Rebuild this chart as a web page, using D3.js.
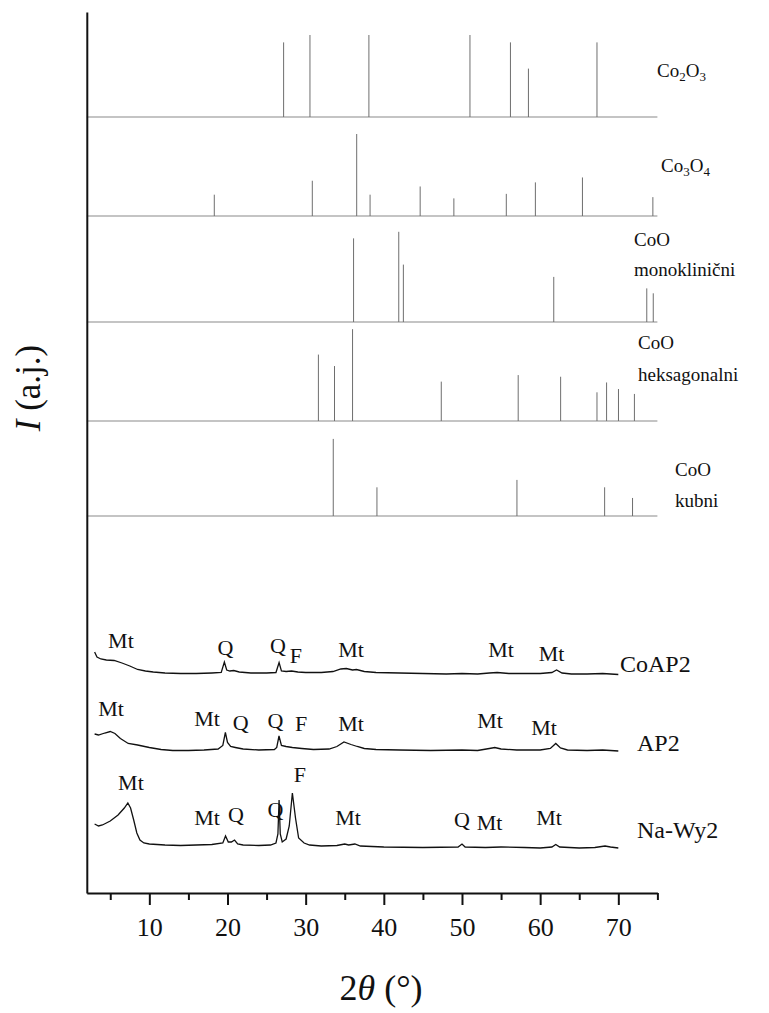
<!DOCTYPE html>
<html>
<head>
<meta charset="utf-8">
<script src="https://cdn.jsdelivr.net/npm/d3@7"></script>
<style>
  html, body { margin: 0; padding: 0; background: #fff; }
  svg { display: block; }
  text { font-family: "Liberation Serif", "Times New Roman", serif; fill: #111; }
</style>
</head>
<body>
<svg id="chart" width="769" height="1013"></svg>
<script>
// ---------- DATA ----------
const xTicksMajor = [10, 20, 30, 40, 50, 60, 70];
const xTicksMinor = [5, 15, 25, 35, 45, 55, 65, 75];

// reference stick patterns: 2θ positions and relative intensities (%)
const co2o3Pos = [27.18, 30.55, 38.09, 51.02, 56.2, 58.5, 67.27];
const co2o3Int = [91, 100, 100, 100, 91, 59, 91];
const co3o4Pos = [18.31, 30.85, 36.53, 38.24, 44.65, 48.96, 55.67, 59.39, 65.41, 74.42];
const co3o4Int = [26, 43, 100, 26, 36, 21.5, 27, 41, 47, 23];
const coMonoPos = [36.13, 41.91, 42.5, 61.74, 73.64, 74.47];
const coMonoInt = [102, 110, 70, 55, 41, 35];
const coHexPos = [31.63, 33.69, 36.0, 47.35, 57.19, 62.62, 67.27, 68.5, 70.02, 72.06];
const coHexInt = [81, 67, 112, 48, 56, 54, 35, 47, 39, 33];
const coCubPos = [33.53, 39.12, 57.03, 68.25, 71.82];
const coCubInt = [94, 35, 44, 35, 22];

// baseline offsets of each pattern (a.u.)
const stickOffsets = [776, 677, 571, 472, 377];
const stickLabelLines = [
  [[["Co", 0], ["2", 1], ["O", 0], ["3", 1]]],
  [[["Co", 0], ["3", 1], ["O", 0], ["4", 1]]],
  [[["CoO", 0]], [["monoklinični", 0]]],
  [[["CoO", 0]], [["heksagonalni", 0]]],
  [[["CoO", 0]], [["kubni", 0]]]
];

// measured diffractograms: 2θ and intensity above each baseline (a.u.)
const coap2X = [3.0, 3.3, 3.8, 4.5, 5.5, 6.5, 7.5, 8.5, 9.5, 10.5, 12, 14, 16, 18, 19.2, 19.6, 19.9, 20.3, 20.8, 21.5, 23, 25, 26.2, 26.6, 26.9, 27.5, 28.2, 29, 30, 32, 33.5, 34.5, 35.2, 36, 36.5, 37.5, 39, 42, 45, 48, 50, 52, 53.5, 54.5, 56, 58, 60, 61.5, 62.1, 62.8, 64, 66, 68, 69, 70];
const coap2Y = [22, 17, 15, 14, 13.5, 11, 8, 4.5, 3, 2, 1, 0.5, 0.5, 1, 1.5, 12, 4, 3, 3.5, 2, 1, 1, 1.5, 11.5, 3, 2.5, 3, 2, 1.5, 1.5, 2.5, 5, 5.5, 4, 4.5, 2.5, 1.5, 1, 0.5, 0, 0.5, 0, 1, 1.5, 0.5, 0.5, 0.5, 1.5, 4, 1, 0, 0, 0.5, 0, -0.5];

const ap2X = [3.0, 3.5, 4.3, 5.0, 5.6, 6.3, 7.3, 8.5, 10, 11.5, 13, 15, 17, 18.8, 19.4, 19.73, 20.0, 20.4, 21, 22, 24, 26.0, 26.3, 26.59, 26.9, 27.5, 28.3, 29.5, 31, 33, 34, 34.9, 35.8, 36.6, 37.5, 39, 42, 46, 50, 52, 53.5, 54.2, 55, 57, 60, 61.3, 62.0, 62.6, 63.5, 66, 68, 70];
const ap2Y = [16.5, 15.5, 17.5, 19, 17, 12, 7, 5.5, 3, 1, 0, 0, 0.5, 1.5, 5, 18, 8, 4, 3, 1.5, 0.5, 1, 3, 14.5, 5, 4, 3, 2, 1, 1.5, 4, 8.5, 6, 4, 2, 1, 0.5, 0, 0.5, 0, 2, 3, 1.5, 0.5, 0.5, 2, 7, 2.5, 0.5, 0, 0.5, -0.5];

const nawy2X = [3.0, 3.5, 4.0, 5.0, 6.0, 6.8, 7.25, 7.6, 8.0, 8.4, 8.8, 9.3, 10, 12, 14, 16, 18, 19.4, 19.75, 20.1, 20.5, 20.9, 21.3, 22, 24, 25.5, 26.2, 26.45, 26.6, 26.75, 27.0, 27.5, 27.9, 28.3, 28.7, 29.1, 29.8, 30.5, 32, 34, 35, 35.5, 36.3, 37, 40, 45, 49.5, 50, 50.4, 53, 55, 58, 60, 61.5, 62, 62.5, 65, 67, 68.3, 69, 70];
const nawy2Y = [24, 22, 23, 27, 33, 40, 45, 40, 28, 15, 8, 5, 4, 3, 2.5, 3, 3.5, 5, 12, 6, 6, 8, 4, 3, 2.5, 3, 5, 14, 48, 14, 6, 9, 22, 55, 30, 10, 5, 3, 2, 2.5, 4, 3, 4, 2, 1, 0.5, 1, 4, 1, 0.5, 1, 0.5, 0, 1, 3.5, 1, 0, 0.5, 2, 1, 0];

const traceOffsets = [219, 142.5, 45];
const traceNames = ["CoAP2", "AP2", "Na-Wy2"];

// peak annotations: 2θ of label centre, baseline level (a.u.), text
const annotX = [6.37, 19.73, 26.46, 28.76, 35.8, 55.0, 61.45,
                5.1, 17.38, 21.69, 26.15, 29.43, 35.8, 53.58, 60.49,
                7.65, 17.38, 21.09, 26.15, 29.27, 35.42, 50.0, 53.52, 61.13];
const annotY = [245, 238, 240, 230, 236, 236, 232,
                177, 167, 163, 165, 162, 162, 165, 158,
                103, 68, 71, 76, 111, 68, 66, 63, 68];
const annotText = ["Mt", "Q", "Q", "F", "Mt", "Mt", "Mt",
                   "Mt", "Mt", "Q", "Q", "F", "Mt", "Mt", "Mt",
                   "Mt", "Mt", "Q", "Q", "F", "Mt", "Q", "Mt", "Mt"];

// ---------- CHART ----------
const svg = d3.select("#chart");
const x = d3.scaleLinear().domain([2, 75]).range([86.8, 657.4]);
const y = d3.scaleLinear().domain([0, 881]).range([893, 12]);
const stickScale = d3.scaleLinear().domain([0, 100]).range([0, 82]);

// stick patterns
const stickSets = [
  [co2o3Pos, co2o3Int], [co3o4Pos, co3o4Int], [coMonoPos, coMonoInt],
  [coHexPos, coHexInt], [coCubPos, coCubInt]
];
stickSets.forEach(([pos, inten], i) => {
  const off = stickOffsets[i];
  const g = svg.append("g");
  g.append("line")
    .attr("x1", x(2)).attr("x2", x(75))
    .attr("y1", y(off)).attr("y2", y(off))
    .attr("stroke", "#8a8a8a").attr("stroke-width", 1.2);
  g.selectAll("line.stick").data(pos).enter().append("line")
    .attr("class", "stick")
    .attr("x1", d => x(d)).attr("x2", d => x(d))
    .attr("y1", y(off))
    .attr("y2", (d, j) => y(off) - stickScale(inten[j]))
    .attr("stroke", "#6e6e6e").attr("stroke-width", 1);
});

// stick labels (x start, baselines)
const labelPos = [
  {x: 657, ys: [77]}, {x: 661, ys: [172]},
  {x: 634, ys: [246, 276]}, {x: 638, ys: [349, 381]}, {x: 675, ys: [476, 507]}
];
stickLabelLines.forEach((lines, i) => {
  const lp = labelPos[i];
  lines.forEach((parts, li) => {
    const t = svg.append("text").attr("x", lp.x).attr("y", lp.ys[li]).attr("font-size", 19);
    let shifted = false;
    parts.forEach(([s, sub]) => {
      const ts = t.append("tspan").text(s).attr("font-size", sub ? 13 : 19);
      if (sub && !shifted) { ts.attr("dy", 4); shifted = true; }
      else if (!sub && shifted) { ts.attr("dy", -4); shifted = false; }
    });
  });
});

// measured traces
const traces = [[coap2X, coap2Y], [ap2X, ap2Y], [nawy2X, nawy2Y]];
const line = d3.line().x(d => x(d[0])).y(d => y(d[1]));
traces.forEach(([xs, ys], i) => {
  const pts = xs.map((v, j) => [v, ys[j] + traceOffsets[i]]);
  svg.append("path").datum(pts)
    .attr("d", line).attr("fill", "none")
    .attr("stroke", "#111").attr("stroke-width", 1.3);
});
const traceLabelPos = [{x: 620, y: 672}, {x: 637, y: 751}, {x: 637, y: 838}];
traceNames.forEach((n, i) => {
  svg.append("text").attr("x", traceLabelPos[i].x).attr("y", traceLabelPos[i].y)
    .attr("font-size", 24).text(n);
});

// annotations
svg.selectAll("text.ann").data(annotText).enter().append("text")
  .attr("class", "ann")
  .attr("x", (d, i) => x(annotX[i]))
  .attr("y", (d, i) => y(annotY[i]))
  .attr("text-anchor", "middle")
  .attr("font-size", 22)
  .text(d => d);

// axes
const xAxis = svg.append("g").attr("transform", `translate(0,${y(0)})`)
  .call(d3.axisBottom(x).tickValues(xTicksMajor).tickSize(12).tickSizeOuter(0).tickFormat(d3.format("d")));
xAxis.select(".domain").attr("stroke-width", 2).attr("stroke", "#111");
xAxis.selectAll(".tick line").attr("stroke-width", 2).attr("stroke", "#111");
xAxis.selectAll(".tick text")
  .attr("font-family", "Liberation Serif").attr("font-size", 26)
  .attr("y", 25).attr("fill", "#111");
const xMinor = svg.append("g").attr("transform", `translate(0,${y(0)})`)
  .call(d3.axisBottom(x).tickValues(xTicksMinor).tickSize(7).tickSizeOuter(0).tickFormat(""));
xMinor.select(".domain").remove();
xMinor.selectAll(".tick line").attr("stroke-width", 2).attr("stroke", "#111");

const yAxis = svg.append("g").attr("transform", `translate(${x(2)},0)`)
  .call(d3.axisLeft(y).tickValues([]).tickSizeOuter(0));
yAxis.select(".domain").attr("stroke-width", 2).attr("stroke", "#111");

// axis titles
svg.append("text")
  .attr("transform", "translate(40,388) rotate(-90)")
  .attr("text-anchor", "middle").attr("font-size", 35)
  .call(t => {
    t.append("tspan").attr("font-style", "italic").text("I");
    t.append("tspan").text(" (a.j.)");
  });
svg.append("text")
  .attr("x", 381).attr("y", 1000).attr("text-anchor", "middle").attr("font-size", 36)
  .call(t => {
    t.append("tspan").text("2");
    t.append("tspan").attr("font-style", "italic").text("θ");
    t.append("tspan").text(" (°)");
  });
</script>
</body>
</html>
